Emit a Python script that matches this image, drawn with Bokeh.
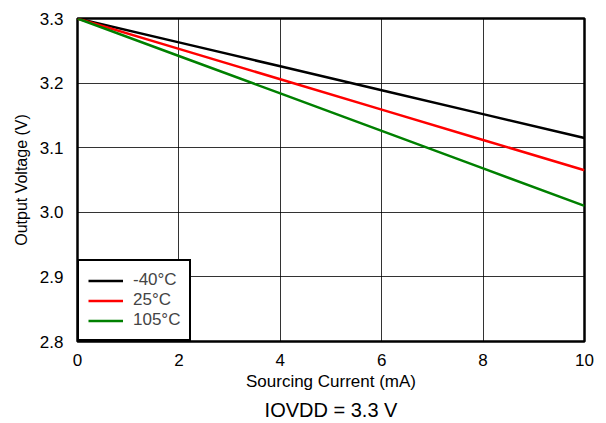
from bokeh.plotting import figure
from bokeh.models import Range1d, FixedTicker, Title, Legend, LegendItem, CustomJSTickFormatter
from bokeh.embed import file_html
from bokeh.resources import INLINE

current_ma = [0, 2, 4, 6, 8, 10]
v_m40 = [3.300, 3.263, 3.226, 3.189, 3.152, 3.115]
v_25 = [3.300, 3.253, 3.206, 3.159, 3.112, 3.065]
v_105 = [3.300, 3.242, 3.184, 3.126, 3.068, 3.010]
series_labels = ["-40°C", "25°C", "105°C"]
series_colors = ["#000000", "#ff0000", "#008000"]
x_ticks = [0, 2, 4, 6, 8, 10]
y_ticks = [2.8, 2.9, 3.0, 3.1, 3.2, 3.3]

FONT = "Liberation Sans"

p = figure(width=598, height=423, output_backend="svg", toolbar_location=None,
           x_range=Range1d(0, 10), y_range=Range1d(2.8, 3.3),
           min_border_left=77, min_border_right=14, min_border_top=18, min_border_bottom=80)

renderers = []
for ys, c in zip([v_m40, v_25, v_105], series_colors):
    r = p.line(current_ma, ys, line_color=c, line_width=2.5)
    renderers.append(r)

legend = Legend(items=[LegendItem(label=l, renderers=[r]) for l, r in zip(series_labels, renderers)],
                location="bottom_left", margin=0, padding=9, spacing=0,
                glyph_width=35, glyph_height=19, label_height=19, label_standoff=10,
                label_text_font=FONT, label_text_font_size="17px",
                border_line_color="black", border_line_width=2.5, border_line_alpha=1.0,
                background_fill_color="white", background_fill_alpha=1.0)
p.add_layout(legend)

p.xaxis.ticker = FixedTicker(ticks=x_ticks)
p.yaxis.ticker = FixedTicker(ticks=y_ticks)
p.yaxis.formatter = CustomJSTickFormatter(code="return tick.toFixed(1);")

for ax in [p.xaxis[0], p.yaxis[0]]:
    ax.axis_line_color = None
    ax.major_tick_line_color = None
    ax.minor_tick_line_color = None
    ax.major_label_text_font = FONT
    ax.major_label_text_font_size = "17px"
    ax.major_label_text_color = "black"
    ax.axis_label_text_font = FONT
    ax.axis_label_text_font_style = "normal"
    ax.axis_label_text_color = "black"

p.xaxis.axis_label = "Sourcing Current (mA)"
p.yaxis.axis_label = "Output Voltage (V)"
p.xaxis.axis_label_text_font_size = "17px"
p.yaxis.axis_label_text_font_size = "16px"
p.xaxis.major_label_standoff = 6
p.yaxis.major_label_standoff = 8
p.xaxis.axis_label_standoff = 3
p.yaxis.axis_label_standoff = 7

p.grid.grid_line_color = "black"
p.grid.grid_line_width = 1
p.grid.grid_line_alpha = 0.8

p.outline_line_color = "black"
p.outline_line_width = 2.5
p.outline_line_alpha = 1.0

t = Title(text="IOVDD = 3.3 V", align="center", text_font=FONT, text_font_size="20px",
          text_font_style="normal", text_color="black", standoff=6)
p.add_layout(t, "below")

p.background_fill_color = "white"
p.border_fill_color = "white"

open("out.html", "w").write(file_html(p, INLINE))
